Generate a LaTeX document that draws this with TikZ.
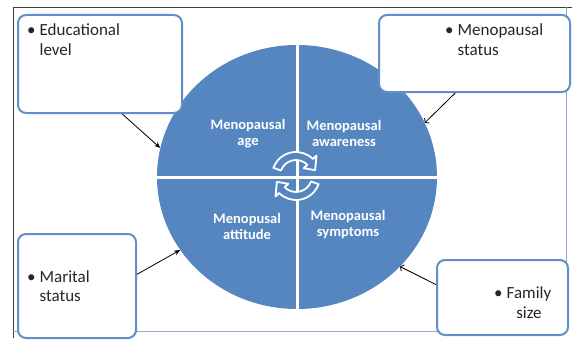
\documentclass[tikz,border=0pt]{standalone}
\usepackage{fontspec}
\setmainfont{Carlito}
\usetikzlibrary{shapes.geometric,arrows.meta,positioning}

\definecolor{coreblue}{RGB}{86,134,192}
\definecolor{edgeblue}{RGB}{98,142,201}
\definecolor{framegray}{RGB}{60,60,60}
\definecolor{framelight}{RGB}{140,170,205}

\begin{document}
\begin{tikzpicture}[
    x=1pt, y=1pt,
    factor/.style={
        rectangle,
        rounded corners=8pt,
        draw=edgeblue,
        line width=2pt,
        fill=white,
        inner sep=0pt
    },
    item/.style={
        inner sep=0pt,
        font=\fontsize{17}{19.5}\selectfont,
        text=black!85
    },
    core/.style={
        ellipse,
        fill=coreblue,
        minimum width=280pt,
        minimum height=264pt,
        inner sep=0pt
    },
    quad/.style={
        align=center,
        text=white,
        font=\bfseries\fontsize{14.5}{16}\selectfont
    },
    sep/.style={draw=white, line width=3pt},
    cyc/.style={fill=coreblue, draw=white, line width=1.8pt, line join=round},
    arr/.style={-{Stealth[length=6pt,width=5pt]}, line width=0.8pt},
    barr/.style={-{Straight Barb[length=2.5pt,width=7pt]}, line width=0.8pt},
]
\useasboundingbox (0,0) rectangle (572,341);

% frame
\draw[framegray, line width=0.8pt] (13,3) -- (13,334) -- (572,334);
\draw[framelight, line width=0.8pt] (566,334) -- (566,10) -- (13,10);

% nodes
\node[core] (core) at (297,164) {};
\draw[sep] (core.north) -- (core.south);
\draw[sep] (core.west) -- (core.east);

\node[factor, minimum width=164pt, minimum height=98pt] (edu) at (100,277) {};
\node[factor, minimum width=191pt, minimum height=77pt] (status) at (474.5,287.5) {};
\node[factor, minimum width=118pt, minimum height=104pt] (marital) at (77,55) {};
\node[factor, minimum width=131pt, minimum height=75pt] (family) at (502.5,43.5) {};

\node[item, below right=8pt and 10pt of edu.north west] (edutxt)
    {\begin{tabular}{@{}l@{\hspace{4pt}}l@{}}\textbullet & Educational\\ & level\end{tabular}};
\node[item, below right=8pt and 67pt of status.north west] (statustxt)
    {\begin{tabular}{@{}l@{\hspace{4pt}}l@{}}\textbullet & Menopausal\\ & status\end{tabular}};
\node[item, right=10pt of marital.west, yshift=-2pt] (maritaltxt)
    {\begin{tabular}{@{}l@{\hspace{4pt}}l@{}}\textbullet & Marital\\ & status\end{tabular}};
\node[item, below right=26pt and 58pt of family.north west] (familytxt)
    {\begin{tabular}{@{}l@{\hspace{4pt}}c@{}}\textbullet & Family\\ & size\end{tabular}};

\node[quad] (age) at (248,207) {Menopausal\\age};
\node[quad] (aware) at (344,208) {Menopausal\\awareness};
\node[quad] (attit) at (247,114.5) {Menopusal\\attitude};
\node[quad] (sympt) at (348,116.5) {Menopausal\\symptoms};

% cycle arrows
\begin{scope}[shift={(296,165)}]
\foreach \r in {0,180}
    \draw[cyc, rotate=\r] (160:24pt) arc[start angle=160, end angle=45, radius=24pt]
        -- (45:29pt) -- (17:20pt) -- (45:11pt) -- (45:16pt)
        arc[start angle=45, end angle=160, radius=16pt] -- cycle;
\end{scope}

% arrows
\draw[arr] (edu.-66) -- (core.168);
\draw[barr] (status.244) -- (core.23);
\draw[arr] (marital.11) -- (core.212);
\draw[barr] (family.169) -- (core.-41);

\end{tikzpicture}
\end{document}
